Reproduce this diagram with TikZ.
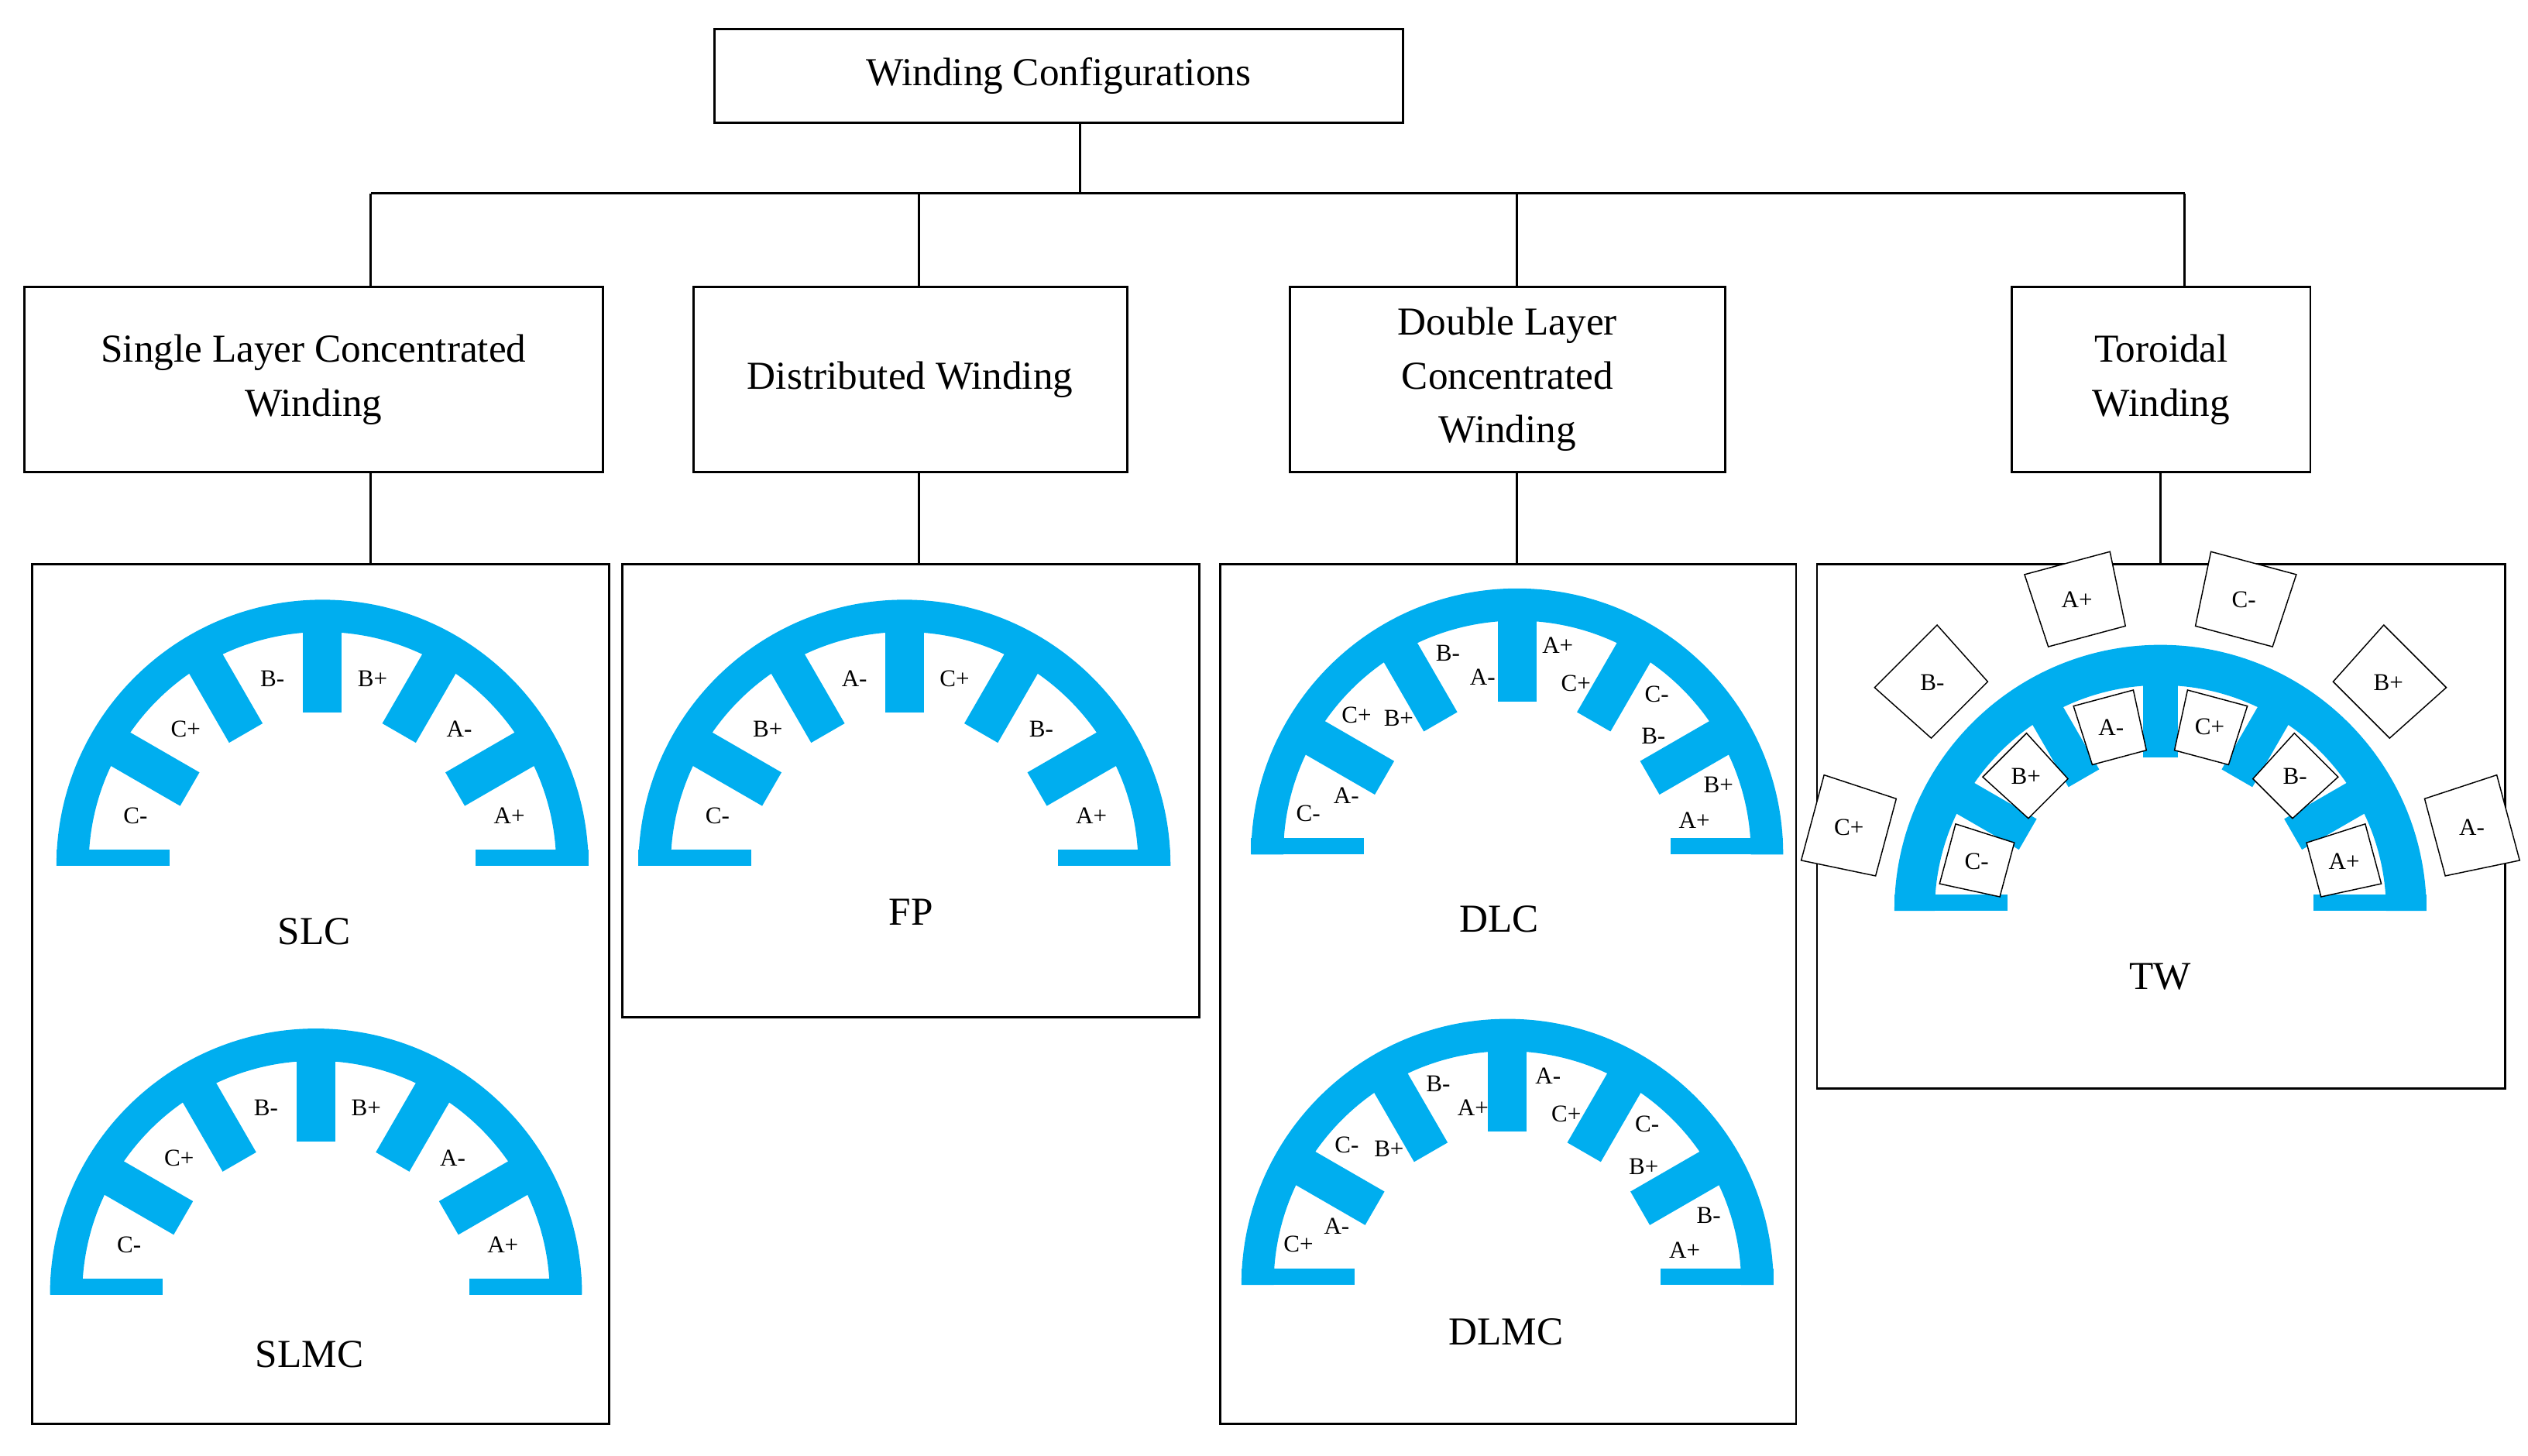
\documentclass[tikz,border=0pt]{standalone}
\usepackage{fontspec}
\setmainfont{Liberation Serif}
\usetikzlibrary{positioning}
\definecolor{sblue}{HTML}{00AEEF}

\tikzset{
  box/.style={draw=black, thick, rectangle, align=center, font=\fontsize{14}{17}\selectfont, inner sep=0pt},
  panel/.style={draw=black, thick, rectangle, inner sep=0pt},
  slot/.style={font=\fontsize{8.5}{9}\selectfont, inner sep=0pt},
  caption/.style={font=\fontsize{14}{17}\selectfont},
  coil/.style={draw=black, thin, fill=white}
}

% stator half: ring, teeth and end tabs
\newcommand{\halfstator}[2]{%
  \begin{scope}[shift={(#1,#2)}]
    \fill[sblue] (165,0) arc[start angle=0,end angle=180,radius=165] -- (-145,0)
      arc[start angle=180,end angle=0,radius=145] -- cycle;
    \foreach \a in {30,60,...,150}
      \fill[sblue, rotate=\a] (95,-12) rectangle (150,12);
    \fill[sblue] (95,0) rectangle (165,10);
    \fill[sblue] (-95,0) rectangle (-165,10);
  \end{scope}}

\begin{document}
\begin{tikzpicture}[x=0.02cm, y=0.02cm]
  \useasboundingbox (0,0) rectangle (1568,903);

  \node[box, minimum width=427*0.02cm, minimum height=58*0.02cm] (top) at (656.5,856) {Winding Configurations};

  \node[box, minimum width=359*0.02cm, minimum height=115*0.02cm] (slcw) at (194.5,667.5) {Single Layer Concentrated\\[2pt]Winding};
  \node[box, minimum width=269*0.02cm, minimum height=115*0.02cm] (dw) at (564.5,667.5) {Distributed Winding};
  \node[box, minimum width=270*0.02cm, minimum height=115*0.02cm] (dlcw) at (935,667.5) {Double Layer\\[2pt]Concentrated\\[2pt]Winding};
  \node[box, minimum width=185*0.02cm, minimum height=115*0.02cm] (tw) at (1340.5,667.5) {Toroidal\\[2pt]Winding};

  \node[panel, minimum width=358*0.02cm, minimum height=533*0.02cm] (slcp) at (199,286.5) {};
  \node[panel, minimum width=358*0.02cm, minimum height=281*0.02cm] (fpp) at (565,412.5) {};
  \node[panel, minimum width=357*0.02cm, minimum height=533*0.02cm] (dlp) at (935.5,286.5) {};
  \node[panel, minimum width=427*0.02cm, minimum height=325*0.02cm] (twp) at (1340.5,390.5) {};

  \coordinate (bus) at (670,783);
  \coordinate (j1) at (230,783);
  \coordinate (j2) at (570,783);
  \coordinate (j3) at (941,783);
  \coordinate (j4) at (1355,783);
  \coordinate (j5) at (1340,783);

  \draw[thick] (top.south -| bus) -- (bus);
  \draw[thick] (j1) -- (j4);
  \draw[thick] (j1) -- (j1 |- slcw.north);
  \draw[thick] (j2) -- (j2 |- dw.north);
  \draw[thick] (j3) -- (j3 |- dlcw.north);
  \draw[thick] (j4) -- (j4 |- tw.north);
  \draw[thick] (j1 |- slcw.south) -- (j1 |- slcp.north);
  \draw[thick] (j2 |- dw.south) -- (j2 |- fpp.north);
  \draw[thick] (j3 |- dlcw.south) -- (j3 |- dlp.north);
  \draw[thick] (j5 |- tw.south) -- (j5 |- twp.north);

  % SLC
  \halfstator{200}{366}
  \begin{scope}[shift={(200,366)}]
    \foreach \a/\t in {15/A+,45/A-,75/B+,105/B-,135/C+,165/C-}
      \node[slot] at (\a:120) {\t};
  \end{scope}
  \node[caption] (slc) at (195,325) {SLC};

  % SLMC
  \halfstator{196}{100}
  \begin{scope}[shift={(196,100)}]
    \foreach \a/\t in {15/A+,45/A-,75/B+,105/B-,135/C+,165/C-}
      \node[slot] at (\a:120) {\t};
  \end{scope}
  \node[caption] (slmc) at (192,63) {SLMC};

  % FP
  \halfstator{561}{366}
  \begin{scope}[shift={(561,366)}]
    \foreach \a/\t in {15/A+,45/B-,75/C+,105/A-,135/B+,165/C-}
      \node[slot] at (\a:120) {\t};
  \end{scope}
  \node[caption] (fp) at (565,337) {FP};

  % DLC
  \halfstator{941}{373}
  \begin{scope}[shift={(941,373)}]
    \foreach \a/\s/\t in {15/B+/A+,45/C-/B-,75/A+/C+,105/B-/A-,135/C+/B+,165/C-/A-}
      {\node[slot] at (\a+4:132) {\s}; \node[slot] at (\a-4:112) {\t};}
  \end{scope}
  \node[caption] (dlc) at (930,333) {DLC};

  % DLMC
  \halfstator{935}{106}
  \begin{scope}[shift={(935,106)}]
    \foreach \a/\s/\t in {15/B-/A+,45/C-/B+,75/A-/C+,105/B-/A+,135/C-/B+,165/C+/A-}
      {\node[slot] at (\a+4:132) {\s}; \node[slot] at (\a-4:112) {\t};}
  \end{scope}
  \node[caption] (dlmc) at (934,77) {DLMC};

  % TW
  \begin{scope}[shift={(1340,338)}]
    \fill[sblue] (165,0) arc[start angle=0,end angle=180,radius=165] -- (-140,0)
      arc[start angle=180,end angle=0,radius=140] -- cycle;
    \foreach \a in {30,60,...,150}
      \fill[sblue, rotate=\a] (95,-11) rectangle (145,11);
    \fill[sblue] (95,0) rectangle (165,10);
    \fill[sblue] (-95,0) rectangle (-165,10);
    \foreach \a/\t in {15/A+,45/B-,75/C+,105/A-,135/B+,165/C-}
      {\draw[coil] (\a-10:100) -- (\a+10:100) -- (\a+8:138) -- (\a-8:138) -- cycle;
       \node[slot] at (\a:118) {\t};}
    \foreach \a/\t in {15/A-,45/B+,75/C-,105/A+,135/B-,165/C+}
      {\draw[coil] (\a-8:178) -- (\a+8:178) -- (\a+7:225) -- (\a-7:225) -- cycle;
       \node[slot] at (\a:200) {\t};}
  \end{scope}
  \node[caption] (twl) at (1340,297) {TW};
\end{tikzpicture}
\end{document}
